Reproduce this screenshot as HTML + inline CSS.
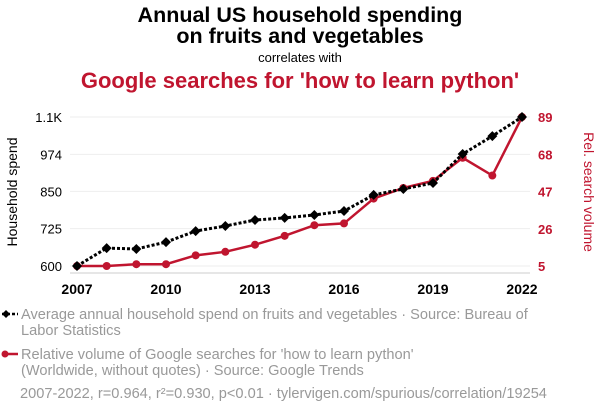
<!DOCTYPE html>
<html><head><meta charset="utf-8">
<style>
body{margin:0;background:#fff;font-family:"Liberation Sans",sans-serif;}
svg{display:block}
</style></head>
<body>
<svg id="c" width="600" height="414" xmlns="http://www.w3.org/2000/svg">
<text x="300" y="22" text-anchor="middle" font-size="21.5" font-weight="bold" fill="#000">Annual US household spending</text>
<text x="300" y="43" text-anchor="middle" font-size="21.5" font-weight="bold" fill="#000">on fruits and vegetables</text>
<text x="300" y="62" text-anchor="middle" font-size="13" fill="#000">correlates with</text>
<text x="300" y="88" text-anchor="middle" font-size="22" font-weight="bold" fill="#c0152f">Google searches for 'how to learn python'</text>
<g id="grid"></g>
<line x1="70" y1="273" x2="530" y2="273" stroke="#ccc"/>
<g id="ticks"></g>
<text transform="translate(17,192) rotate(-90)" text-anchor="middle" font-size="14" fill="#000">Household spend</text>
<text transform="translate(584,192) rotate(90)" text-anchor="middle" font-size="14" fill="#c0152f">Rel. search volume</text>
<g id="series"></g>
<g font-size="14.6" fill="#999">
<line x1="2" y1="314" x2="18" y2="314" stroke="#000" stroke-width="2.5" stroke-dasharray="3,2"/>
<path d="M2 314 L6 310 L10 314 L6 318Z" fill="#000"/>
<text x="21" y="319">Average annual household spend on fruits and vegetables · Source: Bureau of</text>
<text x="21" y="335">Labor Statistics</text>
<line x1="2" y1="354" x2="18" y2="354" stroke="#c0152f" stroke-width="2.5"/>
<circle cx="5" cy="354" r="3.5" fill="#c0152f"/>
<text x="21" y="359">Relative volume of Google searches for 'how to learn python'</text>
<text x="21" y="375">(Worldwide, without quotes) · Source: Google Trends</text>
<text x="20" y="398">2007-2022, r=0.964, r²=0.930, p&lt;0.01 · tylervigen.com/spurious/correlation/19254</text>
</g>
</svg>
<script>
const years=[2007,2008,2009,2010,2011,2012,2013,2014,2015,2016,2017,2018,2019,2020,2021,2022];
const spend=[600,660,657,680,717,734,754,761,771,784,838,858,878,975,1035,1099];
const searches=[5,5,6,6,11,13,17,22,28,29,43,49,53,66,56,89];
const leftTicks=[600,725,850,974,1099];
const leftLabels=["600","725","850","974","1.1K"];
const rightTicks=[5,26,47,68,89];
const xTicks=[2007,2010,2013,2016,2019,2022];
const NS="http://www.w3.org/2000/svg";
const x=v=>77+(v-2007)/(2022-2007)*445;
const yL=v=>266-(v-600)/(1099-600)*149;
const yR=v=>266-(v-5)/(89-5)*149;
function mk(tag,attrs,parent){const e=document.createElementNS(NS,tag);for(const k in attrs)e.setAttribute(k,attrs[k]);parent.appendChild(e);return e;}
const grid=document.getElementById('grid'),ticks=document.getElementById('ticks'),ser=document.getElementById('series');
leftTicks.forEach((t,i)=>{
  const l=mk('line',{x1:70,x2:530,y1:yL(t),y2:yL(t),stroke:'#eee'},grid);
  
  
  const tx=mk('text',{x:62,y:yL(t)+5,'text-anchor':'end','font-size':13,fill:'#000'},ticks);
  tx.textContent=leftLabels[i];
  
  
});
rightTicks.forEach(t=>{
  const tx=mk('text',{x:538,y:yR(t)+5,'font-size':13,'font-weight':'bold',fill:'#c0152f'},ticks);
  tx.textContent=t;
  
  
});
xTicks.forEach(t=>{
  const tx=mk('text',{x:x(t),y:294,'text-anchor':'middle','font-size':14,'font-weight':'bold',fill:'#000'},ticks);
  tx.textContent=t;
  
  
});
const rl=mk('polyline',{points:years.map((y,i)=>x(y)+','+yR(searches[i])).join(' '),fill:'none',stroke:'#c0152f','stroke-width':2.5},ser);


years.forEach((y,i)=>{
  const c=mk('circle',{cx:x(y),cy:yR(searches[i]),r:4,fill:'#c0152f'},ser);
  
  
});
const bl=mk('polyline',{points:years.map((y,i)=>x(y)+','+yL(spend[i])).join(' '),fill:'none',stroke:'#000','stroke-width':3,'stroke-dasharray':'3,2'},ser);


years.forEach((y,i)=>{
  const cx=x(y),cy=yL(spend[i]);
  const d=mk('path',{d:`M${cx-5} ${cy} L${cx} ${cy-5} L${cx+5} ${cy} L${cx} ${cy+5}Z`,fill:'#000'},ser);
  
  
});
</script>
</body></html>
